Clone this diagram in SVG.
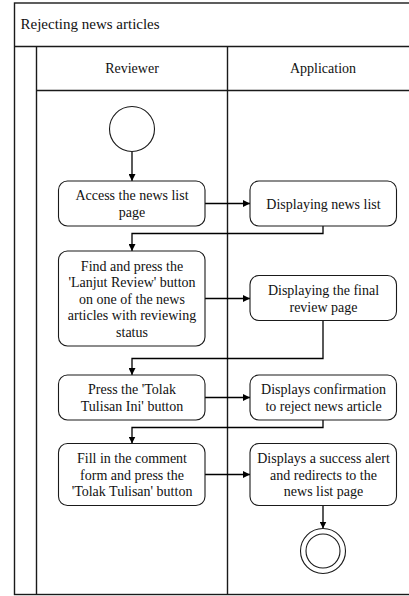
<svg xmlns="http://www.w3.org/2000/svg" width="409" height="596" viewBox="0 0 409 596">
  <style>
    .frame { fill: none; stroke: #1a1a1a; stroke-width: 1.4; }
    .node { fill: #ffffff; stroke: #1a1a1a; stroke-width: 1.1; }
    .flow { fill: none; stroke: #000000; stroke-width: 1.3; }
    text { font-family: "Liberation Serif", "Times New Roman", serif; fill: #111111; }
    .lbl { font-size: 14px; text-anchor: middle; }
    .title { font-size: 15px; }
  </style>
  <defs>
    <marker id="arrow" viewBox="0 0 10 10" refX="10" refY="5" markerWidth="7" markerHeight="7" markerUnits="userSpaceOnUse" orient="auto">
      <path d="M0,0 L10,5 L0,10 z" fill="#000000"/>
    </marker>
  </defs>
  <rect width="409" height="596" fill="#ffffff"/>

  <!-- pool and swimlanes -->
  <g id="pool">
    <rect class="frame" x="14.5" y="3" width="410" height="591.5"/>
    <line class="frame" x1="14.5" y1="46.5" x2="424" y2="46.5"/>
    <line class="frame" x1="36.5" y1="46.5" x2="36.5" y2="594.5"/>
    <line class="frame" x1="36.5" y1="90.5" x2="424" y2="90.5"/>
    <line class="frame" x1="227.5" y1="46.5" x2="227.5" y2="594.5"/>
    <text class="title" x="20.5" y="29">Rejecting news articles</text>
    <text class="lbl" x="132" y="73">Reviewer</text>
    <text class="lbl" x="323" y="73">Application</text>
  </g>

  <!-- connectors -->
  <g id="connectors">
    <line class="flow" x1="132" y1="151.5" x2="132" y2="181" marker-end="url(#arrow)"/>
    <line class="flow" x1="205" y1="203.5" x2="250" y2="203.5" marker-end="url(#arrow)"/>
    <polyline class="flow" points="323,226 323,233.5 132,233.5 132,251" marker-end="url(#arrow)"/>
    <line class="flow" x1="205" y1="298.5" x2="250" y2="298.5" marker-end="url(#arrow)"/>
    <polyline class="flow" points="323,321 323,358.5 132,358.5 132,375" marker-end="url(#arrow)"/>
    <line class="flow" x1="205" y1="397.5" x2="250" y2="397.5" marker-end="url(#arrow)"/>
    <polyline class="flow" points="323,420 323,427.5 132,427.5 132,443.5" marker-end="url(#arrow)"/>
    <line class="flow" x1="205" y1="474.5" x2="250" y2="474.5" marker-end="url(#arrow)"/>
    <line class="flow" x1="323" y1="505.5" x2="323" y2="528.5" marker-end="url(#arrow)"/>
  </g>

  <g id="start">
    <circle class="node" cx="132" cy="129" r="22.5"/>
  </g>

  <g id="access-news-list">
    <rect class="node" x="58.5" y="181" width="146.5" height="45" rx="9"/>
    <text class="lbl" x="132" y="200.3">Access the news list</text>
    <text class="lbl" x="132" y="216.8">page</text>
  </g>

  <g id="display-news-list">
    <rect class="node" x="250" y="181" width="146.5" height="45" rx="9"/>
    <text class="lbl" x="323.5" y="208.5">Displaying news list</text>
  </g>

  <g id="press-lanjut-review">
    <rect class="node" x="58.5" y="251" width="146.5" height="95" rx="9"/>
    <text class="lbl" x="132" y="270.5">Find and press the</text>
    <text class="lbl" x="132" y="287">'Lanjut Review' button</text>
    <text class="lbl" x="132" y="303.5">on one of the news</text>
    <text class="lbl" x="132" y="320">articles with reviewing</text>
    <text class="lbl" x="132" y="336.5">status</text>
  </g>

  <g id="display-final-review">
    <rect class="node" x="250" y="275.5" width="146.5" height="45" rx="9"/>
    <text class="lbl" x="323.5" y="295">Displaying the final</text>
    <text class="lbl" x="323.5" y="311.5">review page</text>
  </g>

  <g id="press-tolak-tulisan-ini">
    <rect class="node" x="58.5" y="375" width="146.5" height="45" rx="9"/>
    <text class="lbl" x="132" y="394.3">Press the 'Tolak</text>
    <text class="lbl" x="132" y="410.8">Tulisan Ini' button</text>
  </g>

  <g id="display-confirmation">
    <rect class="node" x="250" y="375" width="146.5" height="45" rx="9"/>
    <text class="lbl" x="323.5" y="394.3">Displays confirmation</text>
    <text class="lbl" x="323.5" y="410.8">to reject news article</text>
  </g>

  <g id="fill-comment-form">
    <rect class="node" x="58.5" y="443.5" width="146.5" height="62" rx="9"/>
    <text class="lbl" x="132" y="463">Fill in the comment</text>
    <text class="lbl" x="132" y="479.5">form and press the</text>
    <text class="lbl" x="132" y="496">'Tolak Tulisan' button</text>
  </g>

  <g id="display-success">
    <rect class="node" x="250" y="443.5" width="146.5" height="62" rx="9"/>
    <text class="lbl" x="323.5" y="463">Displays a success alert</text>
    <text class="lbl" x="323.5" y="479.5">and redirects to the</text>
    <text class="lbl" x="323.5" y="496">news list page</text>
  </g>

  <g id="end">
    <circle class="node" cx="323" cy="551" r="22.5"/>
    <circle class="node" cx="323" cy="551" r="17"/>
  </g>
</svg>
